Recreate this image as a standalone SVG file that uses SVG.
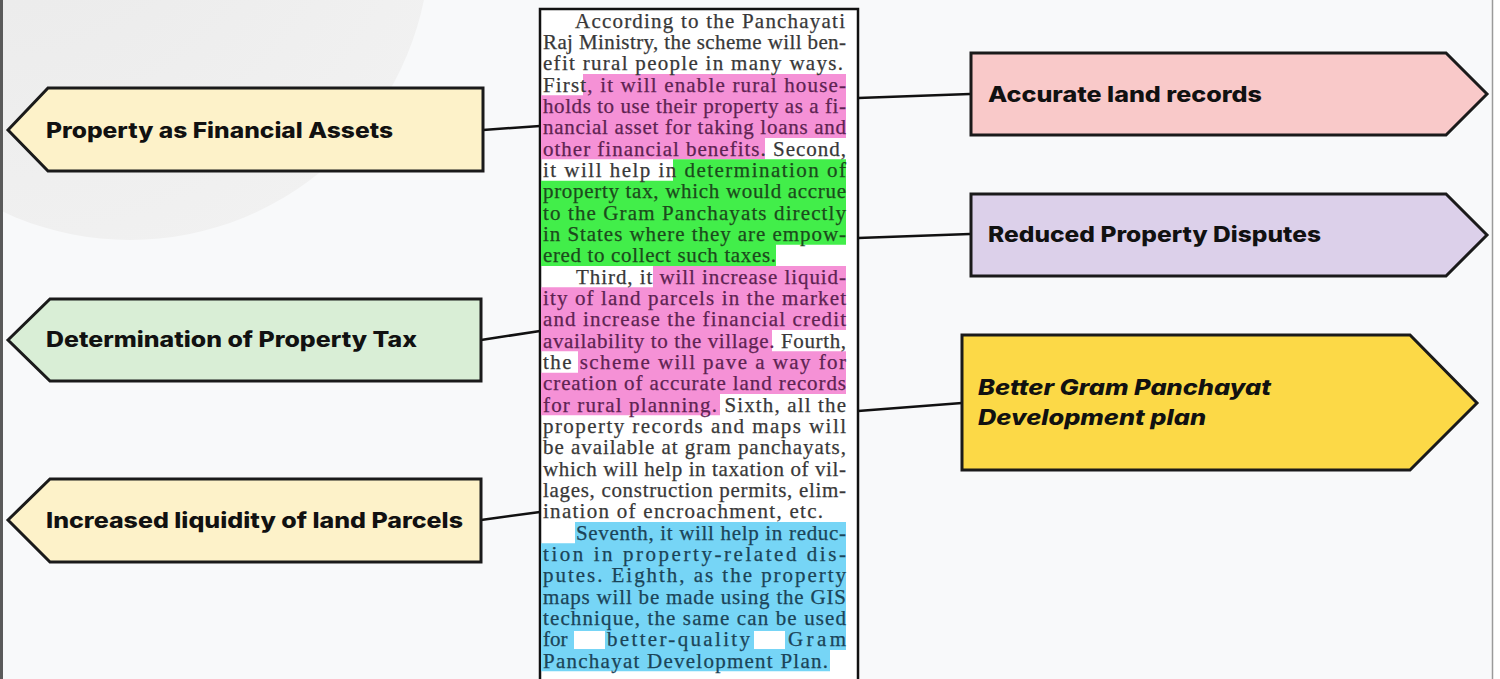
<svg xmlns="http://www.w3.org/2000/svg" width="1500" height="679" viewBox="0 0 1500 679">
<defs>
<radialGradient id="bub" cx="0.3" cy="0.3" r="0.8">
<stop offset="0" stop-color="#e9e9e9"/>
<stop offset="1" stop-color="#f1f1f1"/>
</radialGradient>
</defs>
<style>
.shape{stroke:#1a1a1a;stroke-width:3;stroke-linejoin:miter}
.lbl{font-family:Inter,"Liberation Sans",sans-serif;font-weight:800;font-size:21px;fill:#111}
.body{font-family:"Liberation Serif",serif;font-size:21px;fill:#383838;stroke:#383838;stroke-width:0.25}
.pk{fill:#5e2352;stroke:#5e2352}
.gr{fill:#1c4a1c;stroke:#1c4a1c}
.bl{fill:#1b4458;stroke:#1b4458}
.conn{stroke:#111;stroke-width:2.5;fill:none}
</style>
<rect x="0" y="0" width="1500" height="679" fill="#f8f9fa"/>
<circle cx="130" cy="-60" r="300" fill="url(#bub)"/>
<rect x="0" y="0" width="3" height="679" fill="#5a5a5a"/>
<rect x="1493" y="0" width="7" height="679" fill="#ffffff"/>
<line x1="1492.5" y1="0" x2="1492.5" y2="679" stroke="#9a9a9a" stroke-width="1.5"/>

<g id="connectors">
<line class="conn" x1="483" y1="130" x2="540" y2="126"/>
<line class="conn" x1="481" y1="340" x2="540" y2="331"/>
<line class="conn" x1="481" y1="520" x2="540" y2="512"/>
<line class="conn" x1="858" y1="98" x2="970" y2="94"/>
<line class="conn" x1="858" y1="238" x2="970" y2="234"/>
<line class="conn" x1="858" y1="411" x2="962" y2="403"/>
</g>

<g id="node-property-financial">
<polygon class="shape" points="8,130 48,88 483,88 483,171 48,171" fill="#fdf2c9"/>
<text class="lbl" x="46" y="138" textLength="347" lengthAdjust="spacingAndGlyphs">Property as Financial Assets</text>
</g>
<g id="node-property-tax">
<polygon class="shape" points="8,340 50,299 481,299 481,381 50,381" fill="#d9eed6"/>
<text class="lbl" x="46" y="347" textLength="371" lengthAdjust="spacingAndGlyphs">Determination of Property Tax</text>
</g>
<g id="node-liquidity">
<polygon class="shape" points="8,520 50,479 481,479 481,562 50,562" fill="#fdf2c9"/>
<text class="lbl" x="46" y="528" textLength="417" lengthAdjust="spacingAndGlyphs">Increased liquidity of land Parcels</text>
</g>
<g id="node-land-records">
<polygon class="shape" points="971,53 1446,53 1487,94 1446,135 971,135" fill="#f9c9c9"/>
<text class="lbl" x="988" y="102" textLength="274" lengthAdjust="spacingAndGlyphs">Accurate land records</text>
</g>
<g id="node-disputes">
<polygon class="shape" points="971,194 1446,194 1487,235 1446,276 971,276" fill="#dcd0ea"/>
<text class="lbl" x="988" y="242" textLength="333" lengthAdjust="spacingAndGlyphs">Reduced Property Disputes</text>
</g>
<g id="node-gpdp">
<polygon class="shape" points="962,335 1410,335 1477,403 1410,470 962,470" fill="#fcd947"/>
<text class="lbl" font-style="italic" x="978" y="395" textLength="293" lengthAdjust="spacingAndGlyphs">Better Gram Panchayat</text>
<text class="lbl" font-style="italic" x="978" y="425" textLength="228" lengthAdjust="spacingAndGlyphs">Development plan</text>
</g>

<g id="node-article">
<rect x="540" y="9" width="318" height="680" fill="#ffffff" stroke="#111" stroke-width="2.5"/>
<path d="M583,74 H846 V138 H765 V159.33 H541 V95.33 H583 Z" fill="#f591d6"/>
<path d="M673,159.33 H846 V244.67 H776 V266 H541 V180.67 H673 Z" fill="#42ee4a"/>
<path d="M653,266 H846 V330 H772 V351.33 H846 V394 H720 V415.33 H541 V372.67 H578 V351.33 H541 V287.33 H653 Z" fill="#f591d6"/>
<path d="M575,522 H846 V650 H830 V671.33 H541 V543.33 H575 Z" fill="#76d5f6"/>
<rect x="574" y="631" width="31" height="18" fill="#ffffff"/>
<rect x="754" y="631" width="31" height="18" fill="#ffffff"/>

<text class="body" x="575" y="27.5" textLength="270" lengthAdjust="spacing">According to the Panchayati</text>
<text class="body" x="543" y="48.8" textLength="303" lengthAdjust="spacing">Raj Ministry, the scheme will ben-</text>
<text class="body" x="543" y="70.2" textLength="300" lengthAdjust="spacing">efit rural people in many ways.</text>
<text class="body" x="543" y="91.5" textLength="303" lengthAdjust="spacing">First<tspan class="pk">, it will enable rural house-</tspan></text>
<text class="body pk" x="543" y="112.8" textLength="303" lengthAdjust="spacing">holds to use their property as a fi-</text>
<text class="body pk" x="543" y="134.2" textLength="303" lengthAdjust="spacing">nancial asset for taking loans and</text>
<text class="body" x="543" y="155.5" textLength="303" lengthAdjust="spacing"><tspan class="pk">other financial benefits</tspan>. Second,</text>
<text class="body" x="543" y="176.8" textLength="303" lengthAdjust="spacing">it will help in <tspan class="gr">determination of</tspan></text>
<text class="body gr" x="543" y="198.2" textLength="303" lengthAdjust="spacing">property tax, which would accrue</text>
<text class="body gr" x="543" y="219.5" textLength="303" lengthAdjust="spacing">to the Gram Panchayats directly</text>
<text class="body gr" x="543" y="240.8" textLength="303" lengthAdjust="spacing">in States where they are empow-</text>
<text class="body gr" x="543" y="262.2" textLength="233" lengthAdjust="spacing">ered to collect such taxes.</text>
<text class="body" x="576" y="283.5" textLength="270" lengthAdjust="spacing">Third, it <tspan class="pk">will increase liquid-</tspan></text>
<text class="body pk" x="543" y="304.8" textLength="303" lengthAdjust="spacing">ity of land parcels in the market</text>
<text class="body pk" x="543" y="326.2" textLength="303" lengthAdjust="spacing">and increase the financial credit</text>
<text class="body" x="543" y="347.5" textLength="303" lengthAdjust="spacing"><tspan class="pk">availability to the village.</tspan> Fourth,</text>
<text class="body" x="543" y="368.8" textLength="303" lengthAdjust="spacing">the <tspan class="pk">scheme will pave a way for</tspan></text>
<text class="body pk" x="543" y="390.2" textLength="303" lengthAdjust="spacing">creation of accurate land records</text>
<text class="body" x="543" y="411.5" textLength="303" lengthAdjust="spacing"><tspan class="pk">for rural planning.</tspan> Sixth, all the</text>
<text class="body" x="543" y="432.8" textLength="303" lengthAdjust="spacing">property records and maps will</text>
<text class="body" x="543" y="454.2" textLength="303" lengthAdjust="spacing">be available at gram panchayats,</text>
<text class="body" x="543" y="475.5" textLength="303" lengthAdjust="spacing">which will help in taxation of vil-</text>
<text class="body" x="543" y="496.8" textLength="303" lengthAdjust="spacing">lages, construction permits, elim-</text>
<text class="body" x="543" y="518.2" textLength="280" lengthAdjust="spacing">ination of encroachment, etc.</text>
<text class="body bl" x="576" y="539.5" textLength="270" lengthAdjust="spacing">Seventh, it will help in reduc-</text>
<text class="body bl" x="543" y="560.8" textLength="303" lengthAdjust="spacing">tion in property-related dis-</text>
<text class="body bl" x="543" y="582.2" textLength="303" lengthAdjust="spacing">putes. Eighth, as the property</text>
<text class="body bl" x="543" y="603.5" textLength="303" lengthAdjust="spacing">maps will be made using the GIS</text>
<text class="body bl" x="543" y="624.8" textLength="303" lengthAdjust="spacing">technique, the same can be used</text>
<text class="body bl" x="543" y="646.2">for</text>
<text class="body bl" x="607" y="646.2" textLength="143" lengthAdjust="spacing">better-quality</text>
<text class="body bl" x="788" y="646.2" textLength="58" lengthAdjust="spacing">Gram</text>
<text class="body bl" x="543" y="667.5" textLength="285" lengthAdjust="spacing">Panchayat Development Plan.</text>
</g>
</svg>
